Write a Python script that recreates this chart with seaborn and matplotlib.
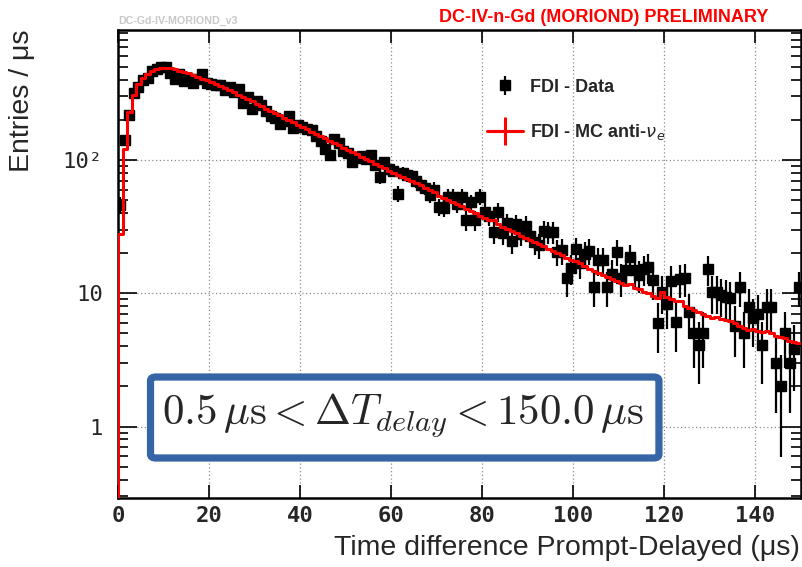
import numpy as np
import matplotlib
matplotlib.use('Agg')
import matplotlib.pyplot as plt
import seaborn as sns
import pandas as pd
from matplotlib.lines import Line2D
from matplotlib.patches import FancyBboxPatch
from matplotlib.ticker import FixedLocator, FixedFormatter, LogLocator, NullFormatter

# bin edges of the 1 us wide bins, 0..150 us
bin_edges = np.arange(0, 151, 1)
bin_centers = bin_edges[:-1] + 0.5

# FDI - Data, entries per us
data_counts = [
    46, 141, 218, 318, 353, 398, 412, 465, 482, 498,
    498, 450, 405, 440, 390, 405, 378, 405, 440, 378,
    372, 367, 365, 335, 353, 324, 340, 268, 297, 241,
    277, 258, 232, 214, 205, 186, 195, 214, 175, 182,
    177, 172, 168, 150, 138, 121, 109, 143, 135, 117,
    112, 97, 104, 107, 101, 109, 92, 75, 96, 85,
    83, 56, 80, 77, 76, 70, 65, 62, 55, 60,
    44.5, 43.7, 53, 53, 47, 53, 35.5, 48, 35.5, 53,
    40.8, 38, 28.8, 40.8, 28.4, 33.7, 24.7, 33, 28, 32,
    27, 24.3, 23, 29.4, 28.8, 28.8, 20.4, 21, 13, 15.5,
    21.5, 17, 19.8, 20.8, 11.2, 17.8, 17.8, 11.2, 14, 20.4,
    13, 15, 18.7, 15, 13.7, 15.2, 15.8, 12.5, 6.0, 10.2,
    8.3, 12.4, 6.1, 12.7, 13, 7.2, 5.0, 4.1, 5.0, 15.2,
    10.2, 10.2, 9.7, 9.4, 9.2, 5.7, 11.2, 5.0, 7.9, 6.5,
    7.0, 4.1, 7.9, 7.9, 3.0, 2.0, 5.0, 3.0, 3.8, 11.2,
]

# FDI - MC anti-nu_e, entries per us
mc_counts = [
    28, 121, 229, 307, 372, 410, 442, 466, 482, 490,
    490, 486, 478, 468, 456, 446, 434, 421, 408, 396,
    384, 371, 358, 345, 333, 321, 309, 298, 287, 276,
    265, 253, 243, 234, 225, 216, 208, 200, 192, 184,
    176, 170, 163, 157, 151, 145, 139, 134, 129, 124,
    119, 114, 110, 106, 102, 98, 94, 90, 87, 83,
    80, 77, 74, 71.5, 69, 67, 64.5, 62, 60, 57.5,
    54, 52, 50, 48.5, 46.5, 45, 43, 41.5, 40, 38,
    36.5, 35.5, 35.5, 33, 31.5, 30.5, 29.5, 28.5, 27, 26,
    25, 24.2, 23.3, 22.5, 21.5, 20.7, 20.0, 19.2, 18.5, 17.8,
    17.5, 16.8, 16.0, 15.3, 14.8, 14.2, 13.8, 13.2, 12.8, 12.4,
    12.0, 11.5, 11.8, 11.0, 10.7, 10.3, 10.0, 9.6, 9.2, 10.2,
    9.4, 9.0, 8.7, 8.8, 8.0, 7.8, 7.5, 7.2, 7.0, 6.8,
    6.5, 6.6, 6.4, 6.3, 6.2, 6.0, 5.7, 5.5, 5.3, 5.4,
    5.2, 5.1, 5.2, 5.0, 4.8, 4.7, 4.6, 4.4, 4.3, 4.2,
]

x_ticks = [0, 20, 40, 60, 80, 100, 120, 140]
y_ticks = [1, 10, 100]
y_tick_labels = ['1', '10', '10\u00b2']

sns.set_style('ticks')
plt.rcParams['font.family'] = ['Liberation Sans', 'DejaVu Sans']

red = '#ff0000'
blue = '#3565a5'
tick_font = dict(family='DejaVu Sans Mono', weight='bold', size=16)

fig = plt.figure(figsize=(8.03, 5.67), dpi=100)
ax = fig.add_axes([118 / 803, 69 / 567, 683 / 803, 468 / 567])

# data points with poisson error bars
yerr = np.sqrt(np.array(data_counts))
data_h = ax.errorbar(bin_centers, data_counts, yerr=yerr, fmt='s', color='black',
                     markersize=7.5, elinewidth=1.6, capsize=0, zorder=3)

# MC histogram as a step line (closed down to the x axis at 0)
mc_df = pd.DataFrame({
    'x': np.concatenate([[0], bin_edges]),
    'y': np.concatenate([[1e-3], mc_counts, [mc_counts[-1]]]),
})
sns.lineplot(data=mc_df, x='x', y='y', ax=ax, estimator=None, sort=False,
             drawstyle='steps-post', color=red, linewidth=2.2, zorder=4)

ax.set_yscale('log')
ax.set_xlim(0, 150)
ax.set_ylim(0.291, 944)

# ticks ROOT style: inside, on all sides
ax.xaxis.set_major_locator(FixedLocator(x_ticks))
ax.yaxis.set_major_locator(FixedLocator(y_ticks))
ax.yaxis.set_major_formatter(FixedFormatter(y_tick_labels))
ax.yaxis.set_minor_locator(LogLocator(base=10, subs=np.arange(2, 10)))
ax.yaxis.set_minor_formatter(NullFormatter())
ax.tick_params(axis='both', which='both', direction='in', top=True, right=True, color='black')
ax.tick_params(axis='x', which='major', length=9.5, width=1.2, pad=6)
ax.tick_params(axis='y', which='major', length=14, width=1.2, pad=11)
ax.tick_params(axis='y', which='minor', length=7, width=1.2)
for lab in ax.get_xticklabels():
    lab.set_fontproperties(tick_font)
for lab in ax.get_yticklabels():
    lab.set_fontfamily('DejaVu Sans Mono')
    lab.set_fontsize(16)
for sp in ax.spines.values():
    sp.set_linewidth(1.8)
    sp.set_color('black')

ax.grid(True, which='major', axis='both', color='#8a8a8a', linestyle=(0, (1, 2)), linewidth=0.9)
ax.set_xlabel('')
ax.set_ylabel('')

fig.text(800 / 803, 1 - 548 / 567, 'Time difference Prompt-Delayed (\u03bcs)',
         ha='right', va='center', fontsize=20.5)
fig.text(22 / 803, 1 - 30 / 567, 'Entries / \u03bcs', rotation=90,
         ha='center', va='top', fontsize=20.5)

fig.text(768 / 803, 1 - 17 / 567, 'DC-IV-n-Gd (MORIOND) PRELIMINARY',
         ha='right', va='center', color=red, fontsize=13, fontweight='bold')
fig.text(118 / 803, 1 - 21 / 567, 'DC-Gd-IV-MORIOND_v3',
         ha='left', va='center', color='#c8c8c8', fontsize=7.7, fontweight='bold')

# legend
mc_handle = Line2D([], [], color=red, linewidth=2.2, marker='+', markersize=20, markeredgewidth=2.2)
leg = ax.legend([data_h, mc_handle], ['FDI - Data', r'FDI - MC anti-$\nu_{e}$'],
                loc='upper left', bbox_to_anchor=(0.527, 0.915), frameon=False,
                prop=dict(family='Liberation Sans', weight='bold', size=13),
                handlelength=2.0, handletextpad=0.4, labelspacing=1.45, borderpad=0)

# cut box
box = FancyBboxPatch((0.0476, 0.0855), 0.792 - 0.0476, 0.2585 - 0.0855,
                     boxstyle='round,pad=0,rounding_size=0.008', transform=ax.transAxes,
                     facecolor='white', edgecolor=blue, linewidth=5.2, zorder=5)
ax.add_patch(box)
ax.text(0.417, 0.177, r'$0.5\,\mu\mathrm{s} < \Delta T_{delay} < 150.0\,\mu\mathrm{s}$',
        transform=ax.transAxes, ha='center', va='center', fontsize=31,
        math_fontfamily='cm', zorder=6)

fig.savefig('out.png', dpi=100)
